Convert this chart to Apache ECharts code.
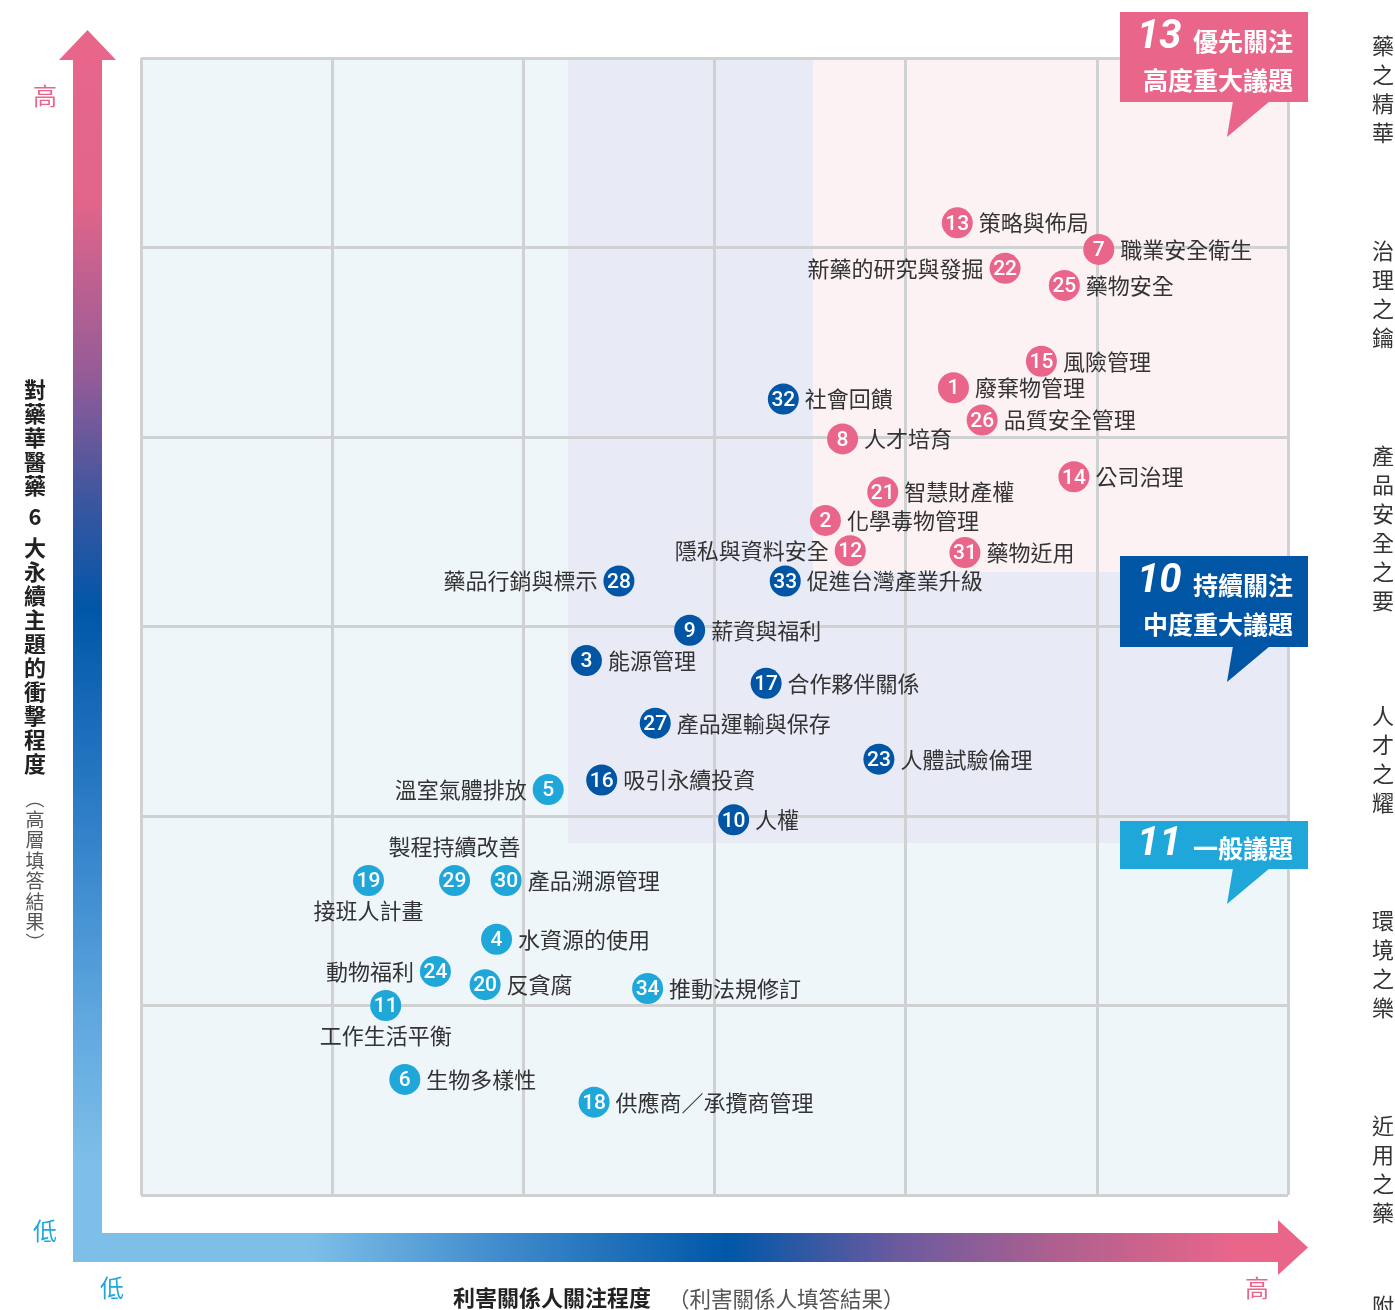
<!DOCTYPE html>
<html>
<head>
<meta charset="utf-8">
<title>重大議題矩陣</title>
<script src="https://cdn.jsdelivr.net/npm/echarts@6/dist/echarts.min.js"></script>
<style>
    html, body { margin: 0; padding: 0; background: #fff; }
    #matrix { width: 1395px; height: 1310px; }
</style>
</head>
<body>
<div id="matrix"></div>
<script>
// 議題編號 / 名稱 / 利害關係人關注程度(x) / 衝擊程度(y)，座標以格子數 0~6 計
var ids = [13, 7, 22, 25, 15, 1, 32, 26, 8, 14, 21, 2, 12, 31,
    28, 33, 9, 3, 17, 27, 23, 5, 16, 10,
    19, 29, 30, 4, 24, 20, 34, 11, 6, 18];
var names = ['策略與佈局', '職業安全衛生', '新藥的研究與發掘', '藥物安全', '風險管理', '廢棄物管理', '社會回饋',
    '品質安全管理', '人才培育', '公司治理', '智慧財產權', '化學毒物管理', '隱私與資料安全', '藥物近用',
    '藥品行銷與標示', '促進台灣產業升級', '薪資與福利', '能源管理', '合作夥伴關係', '產品運輸與保存',
    '人體試驗倫理', '溫室氣體排放', '吸引永續投資', '人權',
    '接班人計畫', '製程持續改善', '產品溯源管理', '水資源的使用', '動物福利', '反貪腐', '推動法規修訂',
    '工作生活平衡', '生物多樣性', '供應商／承攬商管理'];
var xs = [4.27, 5.01, 4.52, 4.83, 4.71, 4.25, 3.36, 4.40, 3.67, 4.88, 3.88, 3.58, 3.71, 4.31,
    2.50, 3.37, 2.87, 2.33, 3.27, 2.69, 3.86, 2.13, 2.41, 3.10,
    1.19, 1.64, 1.91, 1.86, 1.54, 1.80, 2.65, 1.28, 1.38, 2.37];
var ys = [5.13, 4.99, 4.89, 4.80, 4.40, 4.26, 4.20, 4.09, 3.99, 3.79, 3.71, 3.56, 3.40, 3.39,
    3.24, 3.24, 2.98, 2.82, 2.70, 2.49, 2.30, 2.14, 2.19, 1.98,
    1.66, 1.66, 1.66, 1.35, 1.18, 1.11, 1.09, 1.00, 0.61, 0.49];
var groups = ['high', 'high', 'high', 'high', 'high', 'high', 'mid', 'high', 'high', 'high', 'high', 'high', 'high', 'high',
    'mid', 'mid', 'mid', 'mid', 'mid', 'mid', 'mid', 'low', 'mid', 'mid',
    'low', 'low', 'low', 'low', 'low', 'low', 'low', 'low', 'low', 'low'];
var labelPos = ['right', 'right', 'left', 'right', 'right', 'right', 'right', 'right', 'right', 'right', 'right', 'right', 'left', 'right',
    'left', 'right', 'right', 'right', 'right', 'right', 'right', 'left', 'right', 'right',
    'bottom', 'top', 'right', 'right', 'left', 'right', 'right', 'bottom', 'right', 'right'];

// 區塊範圍
var midArea = [2.234, 1.857];
var highArea = [3.515, 3.288];

var chapters = ['藥之精華', '治理之鑰', '產品安全之要', '人才之耀', '環境之樂', '近用之藥', '附錄'];
var chapterTops = [45, 250, 455, 715, 920, 1125, 1305];

var colors = { high: '#E9668A', mid: '#0055A4', low: '#1FA7DA' };
var FONT = '"Noto Sans CJK TC", "Noto Sans", sans-serif';

var dots = [], tags = [];
for (var i = 0; i < ids.length; i++) {
    dots.push({
        value: [xs[i], ys[i], ids[i]],
        itemStyle: { color: colors[groups[i]] }
    });
    var d = 6;
    if (labelPos[i] === 'top') d = 7;
    if (labelPos[i] === 'bottom') d = 4;
    tags.push({
        value: [xs[i], ys[i], names[i]],
        label: { position: labelPos[i], distance: d }
    });
}

function vText(str) {
    return str.split('').join('\n');
}

var graphics = [];

// 縱軸箭頭
graphics.push({
    type: 'polygon',
    shape: { points: [[73, 1262], [73, 60], [59, 60], [87.5, 30], [116, 60], [102, 60], [102, 1262]] },
    style: {
        fill: new echarts.graphic.LinearGradient(0, 0, 0, 1, [
            { offset: 0, color: '#E9668A' },
            { offset: 0.14, color: '#E1658A' },
            { offset: 0.28, color: '#955B97' },
            { offset: 0.38, color: '#3D56A0' },
            { offset: 0.47, color: '#0057A8' },
            { offset: 0.63, color: '#2C7CC6' },
            { offset: 0.8, color: '#5EA7DF' },
            { offset: 0.92, color: '#7DBFE8' },
            { offset: 1, color: '#7DBFE8' }
        ])
    }
});
// 橫軸箭頭
graphics.push({
    type: 'polygon',
    shape: { points: [[73, 1233], [1278, 1233], [1278, 1220], [1308, 1247.5], [1278, 1275], [1278, 1262], [73, 1262]] },
    style: {
        fill: new echarts.graphic.LinearGradient(0, 0, 1, 0, [
            { offset: 0, color: '#7DBFE8' },
            { offset: 0.19, color: '#7DBFE8' },
            { offset: 0.35, color: '#3F8ACB' },
            { offset: 0.53, color: '#0057A8' },
            { offset: 0.67, color: '#6C5A9E' },
            { offset: 0.8, color: '#B0608F' },
            { offset: 0.94, color: '#E9668A' },
            { offset: 1, color: '#E9668A' }
        ])
    }
});

// 高低標示
graphics.push({ type: 'text', left: 33, top: 84, style: { text: '高', font: '24px ' + FONT, fill: '#E9668A' } });
graphics.push({ type: 'text', left: 33, top: 1219, style: { text: '低', font: '24px ' + FONT, fill: '#21A8DA' } });
graphics.push({ type: 'text', left: 100, top: 1276, style: { text: '低', font: '24px ' + FONT, fill: '#21A8DA' } });
graphics.push({ type: 'text', left: 1245, top: 1276, style: { text: '高', font: '24px ' + FONT, fill: '#E9668A' } });

// 縱軸標題（直書）
graphics.push({ type: 'text', x: 35, y: 378, style: { text: vText('對藥華醫藥'), font: 'bold 22px ' + FONT, fill: '#222', align: 'center', lineHeight: 24 } });
graphics.push({ type: 'text', x: 35, y: 505, style: { text: '6', font: 'bold 22px ' + FONT, fill: '#222', align: 'center', lineHeight: 24 } });
graphics.push({ type: 'text', x: 35, y: 536, style: { text: vText('大永續主題的衝擊程度'), font: 'bold 22px ' + FONT, fill: '#222', align: 'center', lineHeight: 24 } });
graphics.push({ type: 'text', x: 35, y: 789, style: { text: vText('︵高層填答結果︶'), font: '19px ' + FONT, fill: '#555', align: 'center', lineHeight: 20.5 } });

// 橫軸標題
graphics.push({ type: 'text', x: 453, y: 1298, style: { text: '利害關係人關注程度', font: 'bold 22px ' + FONT, fill: '#222', verticalAlign: 'middle' } });
graphics.push({ type: 'text', x: 668, y: 1299, style: { text: '（利害關係人填答結果）', font: '21.5px ' + FONT, fill: '#555', verticalAlign: 'middle' } });

// 右側章節
for (var c = 0; c < chapters.length; c++) {
    graphics.push({
        type: 'text', x: 1372, y: chapterTops[c] - 14,
        style: { text: vText(chapters[c]), font: '22px ' + FONT, fill: '#333', lineHeight: 29 }
    });
}

// 標籤框
function callout(top, bottom, color, num, title, sub) {
    graphics.push({ type: 'rect', shape: { x: 1120, y: top, width: 188, height: bottom - top }, style: { fill: color }, z: 20 });
    graphics.push({ type: 'polygon', shape: { points: [[1233, bottom - 1], [1270, bottom - 1], [1227, bottom + 35]] }, style: { fill: color }, z: 20 });
    var y1 = sub ? top + 26 : (top + bottom) / 2;
    graphics.push({ type: 'text', x: 1137, y: y1, z: 21, style: { text: num, font: 'italic bold 40px Roboto, sans-serif', fill: '#fff', verticalAlign: 'middle' } });
    graphics.push({ type: 'text', x: 1193, y: y1 + 3, z: 21, style: { text: title, font: 'bold 25px ' + FONT, fill: '#fff', verticalAlign: 'middle' } });
    if (sub) {
        graphics.push({ type: 'text', x: 1143, y: top + 68, z: 21, style: { text: sub, font: 'bold 25px ' + FONT, fill: '#fff', verticalAlign: 'middle' } });
    }
}
callout(12, 102, '#E9668A', '13', '優先關注', '高度重大議題');
callout(556, 647, '#0055A4', '10', '持續關注', '中度重大議題');
callout(821, 869, '#1FA7DA', '11', '一般議題', null);

var option = {
    backgroundColor: '#fff',
    animation: false,
    grid: {
        left: 141, top: 58, width: 1147, height: 1137,
        show: true, backgroundColor: '#EFF6FA', borderWidth: 0
    },
    xAxis: {
        type: 'value', min: 0, max: 6, interval: 1, z: 3,
        axisLine: { show: false }, axisTick: { show: false }, axisLabel: { show: false },
        splitLine: { show: true, lineStyle: { color: '#CFD1D2', width: 3 } }
    },
    yAxis: {
        type: 'value', min: 0, max: 6, interval: 1, z: 3,
        axisLine: { show: false }, axisTick: { show: false }, axisLabel: { show: false },
        splitLine: { show: true, lineStyle: { color: '#CFD1D2', width: 3 } }
    },
    graphic: graphics,
    series: [
        {
            type: 'scatter',
            z: 1,
            data: [],
            silent: true,
            markArea: {
                silent: true,
                data: [
                    [{ xAxis: midArea[0], yAxis: midArea[1], itemStyle: { color: '#E8EAF6' } }, { xAxis: 6, yAxis: 6 }],
                    [{ xAxis: highArea[0], yAxis: highArea[1], itemStyle: { color: '#FCF1F3' } }, { xAxis: 6, yAxis: 6 }]
                ]
            }
        },
        {
            type: 'scatter',
            z: 5,
            symbolSize: 31,
            data: tags,
            itemStyle: { color: 'rgba(0,0,0,0)', opacity: 1 },
            label: {
                show: true,
                formatter: function (p) { return p.value[2]; },
                fontFamily: FONT,
                fontSize: 22,
                color: '#333'
            }
        },
        {
            type: 'scatter',
            z: 6,
            symbolSize: 31,
            data: dots,
            itemStyle: { opacity: 1 },
            label: {
                show: true,
                position: 'inside',
                offset: [0, 1.5],
                formatter: function (p) { return p.value[2]; },
                fontFamily: 'Roboto, sans-serif',
                fontSize: 21,
                fontWeight: 500,
                color: '#fff'
            }
        }
    ]
};

var myChart = echarts.init(document.getElementById('matrix'));
myChart.setOption(option);
</script>
</body>
</html>
